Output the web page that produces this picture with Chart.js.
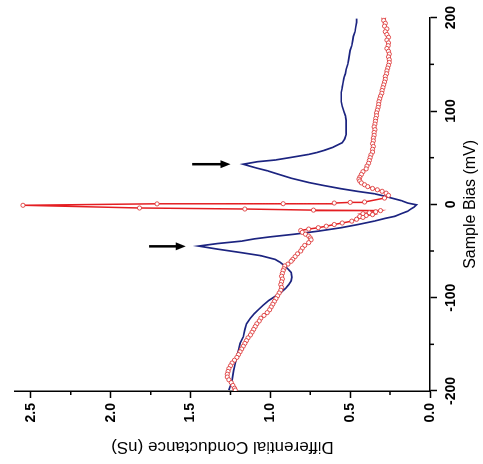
<!DOCTYPE html>
<html>
<head>
<meta charset="utf-8">
<script src="https://cdn.jsdelivr.net/npm/chart.js@4/dist/chart.umd.min.js"></script>
<style>
  html, body { margin: 0; padding: 0; background: #fff; overflow: hidden; }
  /* plot is laid out upright, then turned a quarter turn counter-clockwise */
  #wrap {
    position: absolute; left: 0; top: 0;
    width: 464px; height: 483px;
    transform-origin: 0 0;
    transform: translate(0, 464px) rotate(-90deg);
  }
</style>
</head>
<body>
<div id="wrap"><canvas id="dIdV" width="464" height="483"></canvas></div>
<script>
// bias in mV, conductance in nS
let blueBias = [199,195,190,185,180,175,170,165,160,155,150,145,140,135,130,125,120,115,110,105,
  100,95,90,85,80,75,70,66,63.5,61,58,55.5,53.5,50.3,47.5,45.7,43,40.5,38.6,36,
  33.3,28,23.4,20,16.7,13.8,11.4,9,6.7,4,1.4,-0.5,-3,-5,-7.4,-10,-12.8,-15,-18,-21.6,
  -25,-28.7,-32,-35,-37,-39.4,-42,-44.7,-48,-51.8,-55,-59,-62,-66,-70,-73,-78,-82,-86,-90,
  -94,-98,-103,-108,-112,-117,-122,-128,-134,-142,-149,-156,-163,-170.5,-178,-188,-194,-199];
let blueG = [0.46,0.46,0.465,0.47,0.48,0.485,0.49,0.50,0.505,0.51,0.515,0.525,0.53,0.54,0.545,0.55,0.556,0.556,0.556,0.55,
  0.54,0.53,0.525,0.525,0.525,0.525,0.535,0.55,0.58,0.61,0.66,0.71,0.76,0.87,0.97,1.08,1.17,1.12,1.08,1.02,
  0.97,0.87,0.76,0.66,0.556,0.45,0.35,0.29,0.24,0.18,0.14,0.085,0.10,0.12,0.14,0.18,0.22,0.28,0.35,0.45,
  0.556,0.70,0.85,1.01,1.10,1.18,1.33,1.45,1.33,1.18,1.06,0.97,0.94,0.91,0.885,0.87,0.865,0.87,0.885,0.905,
  0.93,0.965,1.01,1.045,1.07,1.10,1.125,1.15,1.16,1.17,1.19,1.20,1.21,1.22,1.23,1.24,1.25,1.26];

let redBias = [200,197,194,191,188,185,182,179,176,173,170,167,164,161,158,155,152,149,146,143,
  140,137,134,131,128,125,122,119,116,113,110,107,104,101,98,95,92,89,86,83,
  80,77,74,71,68,65,62,59,56,53,50,47,44,41,38,35,32,29,27,25,
  23,21,19,17,15.6,14,12,9.6,6.7,2.5,2.1,1.4,0.7,0.5,-1,-3.9,-5,-6.2,-6.7,-8,
  -9,-10,-11,-12,-13,-14,-16,-18,-20,-21.6,-23.4,-25,-26.5,-28,-30,-32,-34,-36,-38,-41,
  -44,-47,-50,-53,-56,-59,-61,-64,-66,-69,-71,-74,-77,-80,-83,-86,-89,-92,-95,-98,
  -101,-104,-107,-110,-113,-116,-119,-122,-125,-128,-131,-134,-137,-140,-143,-146,-149,-152,-155,-158,
  -161,-164,-167,-170,-173,-176,-179,-182,-185,-188,-191,-194,-197,-199];
let redG = [0.29,0.29,0.28,0.285,0.27,0.28,0.27,0.26,0.27,0.26,0.262,0.27,0.26,0.255,0.26,0.255,0.255,0.26,0.265,0.27,
  0.272,0.28,0.28,0.285,0.29,0.295,0.30,0.302,0.31,0.315,0.32,0.322,0.325,0.33,0.335,0.335,0.34,0.342,0.345,0.35,
  0.345,0.35,0.35,0.355,0.355,0.36,0.355,0.36,0.36,0.37,0.375,0.38,0.385,0.395,0.40,0.42,0.43,0.44,0.445,0.44,
  0.43,0.41,0.39,0.36,0.33,0.30,0.275,0.26,0.285,0.41,0.50,0.60,0.92,1.71,2.55,1.82,1.16,0.73,0.31,0.34,
  0.38,0.42,0.36,0.40,0.44,0.42,0.46,0.49,0.55,0.60,0.65,0.70,0.76,0.81,0.80,0.78,0.76,0.75,0.745,0.76,
  0.785,0.80,0.81,0.83,0.845,0.86,0.87,0.89,0.91,0.915,0.92,0.925,0.93,0.925,0.93,0.935,0.93,0.935,0.945,0.955,
  0.965,0.975,0.985,0.995,1.005,1.02,1.04,1.06,1.07,1.085,1.095,1.105,1.115,1.125,1.14,1.15,1.16,1.17,1.18,1.19,
  1.20,1.21,1.225,1.24,1.25,1.26,1.265,1.27,1.27,1.26,1.245,1.235,1.225,1.22];

// arrows marking the coherence peaks (bias, tail conductance, head conductance)
let arrowBias = [43, -45];
let arrowFrom = [1.49, 1.76];
let arrowTo = [1.25, 1.53];

function pairs(xs, ys) {
    let out = [];
    for (let i = 0; i < xs.length; i++) {
        out.push({x: xs[i], y: ys[i]});
    }
    return out;
}

// short minor ticks halfway between the labelled ones
const minorTicks = {
    id: "minorTicks",
    afterDraw(chart) {
        let ctx = chart.ctx;
        let xs = chart.scales.x, ys = chart.scales.y;
        ctx.save();
        ctx.strokeStyle = "#000";
        ctx.lineWidth = 1.5;
        ctx.beginPath();
        for (let v = -150; v <= 150; v += 100) {
            let px = xs.getPixelForValue(v);
            ctx.moveTo(px, xs.top);
            ctx.lineTo(px, xs.top + 4);
        }
        for (let v = 0.25; v < 2.6; v += 0.5) {
            let py = ys.getPixelForValue(v);
            ctx.moveTo(ys.right, py);
            ctx.lineTo(ys.right - 4, py);
        }
        ctx.stroke();
        ctx.restore();
    }
};

const peakArrows = {
    id: "peakArrows",
    afterDatasetsDraw(chart) {
        let ctx = chart.ctx;
        let xs = chart.scales.x, ys = chart.scales.y;
        ctx.save();
        ctx.strokeStyle = "#000";
        ctx.fillStyle = "#000";
        ctx.lineWidth = 2.5;
        for (let i = 0; i < arrowBias.length; i++) {
            let px = xs.getPixelForValue(arrowBias[i]);
            let y1 = ys.getPixelForValue(arrowFrom[i]);
            let y2 = ys.getPixelForValue(arrowTo[i]);
            ctx.beginPath();
            ctx.moveTo(px, y1);
            ctx.lineTo(px, y2 - 8);
            ctx.stroke();
            ctx.beginPath();
            ctx.moveTo(px - 4, y2 - 10);
            ctx.lineTo(px + 4, y2 - 10);
            ctx.lineTo(px, y2);
            ctx.closePath();
            ctx.fill();
        }
        ctx.restore();
    }
};

const tickFont = {family: "'Liberation Sans', Arial, sans-serif", size: 14, weight: "bold"};
const titleFamily = "'Liberation Sans', Arial, sans-serif";

new Chart(document.getElementById("dIdV"), {
    type: "line",
    data: {
        datasets: [{
            label: "red",
            data: pairs(redBias, redG),
            borderColor: "rgb(228,30,34)",
            borderWidth: 1.5,
            pointRadius: 2.1,
            pointBorderWidth: 1,
            pointBorderColor: "rgba(222,60,60,0.9)",
            pointBackgroundColor: "#fff",
            tension: 0
        }, {
            label: "blue",
            data: pairs(blueBias, blueG),
            borderColor: "rgb(28,36,128)",
            borderWidth: 1.7,
            pointRadius: 0,
            tension: 0
        }]
    },
    options: {
        responsive: false,
        devicePixelRatio: 1,
        animation: false,
        events: [],
        layout: {padding: {top: 15, right: 15, left: 0, bottom: 0}},
        plugins: {legend: {display: false}, tooltip: {enabled: false}},
        scales: {
            x: {
                type: "linear",
                min: -200, max: 200,
                afterFit(scale) { scale.height = 53; },
                border: {display: true, color: "#000", width: 1.5},
                grid: {drawOnChartArea: false, drawTicks: true, tickLength: 7, tickColor: "#000", tickWidth: 1.5},
                ticks: {stepSize: 100, color: "#000", font: tickFont, padding: 6, maxRotation: 0},
                title: {display: true, text: "Sample Bias (mV)", color: "#000",
                    font: {family: titleFamily, size: 16}, padding: {top: 0, bottom: 3}}
            },
            y: {
                type: "linear",
                min: 0, max: 2.6,
                afterFit(scale) { scale.width = 73; },
                border: {display: true, color: "#000", width: 1.5},
                grid: {drawOnChartArea: false, drawTicks: true, tickLength: 7, tickColor: "#000", tickWidth: 1.5},
                ticks: {stepSize: 0.5, includeBounds: false, color: "#000", font: tickFont, padding: 5,
                    callback: v => v.toFixed(1)},
                title: {display: true, text: "Differential Conductance (nS)", color: "#000",
                    font: {family: titleFamily, size: 17}, padding: {top: 7, bottom: 0}}
            }
        }
    },
    plugins: [minorTicks, peakArrows]
});
</script>
</body>
</html>
